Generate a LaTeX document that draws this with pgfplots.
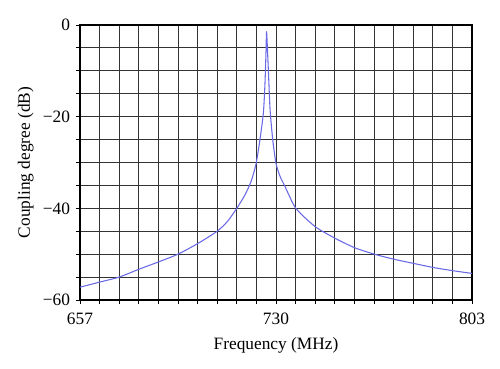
\documentclass[border=0pt]{standalone}
\usepackage{pgfplots}
\pgfplotsset{compat=1.18}
\usepackage{fontspec}
\setmainfont{Liberation Serif}
\definecolor{curve}{RGB}{105,105,230}
\begin{document}
\fontsize{13}{15}\selectfont
\begin{tikzpicture}
\useasboundingbox (-60pt,-51pt) rectangle (315pt,225pt);
\begin{axis}[
  scale only axis,
  width=294pt, height=206.25pt,
  xmin=657, xmax=803, ymin=-60, ymax=0,
  xtick={657,730,803},
  minor xtick={664.3,671.6,678.9,686.2,693.5,700.8,708.1,715.4,722.7,737.3,744.6,751.9,759.2,766.5,773.8,781.1,788.4,795.7},
  ytick={-60,-40,-20,0},
  yticklabels={−60,−40,−20,0},
  minor ytick={-55,-50,-45,-35,-30,-25,-15,-10,-5},
  grid=both,
  major grid style={draw=black!80, line width=0.7pt},
  minor grid style={draw=black!80, line width=0.7pt},
  axis line style={line width=0.9pt},
  tick align=outside,
  tick pos=left,
  major tick length=3pt,
  minor tick length=3pt,
  every tick/.style={black, line width=0.7pt},
  /pgf/number format/assume math mode=true,
  /pgf/number format/1000 sep={},
  tick label style={font=\fontsize{13}{15}\selectfont},
  xticklabel style={yshift=-2pt},
  label style={font=\fontsize{13}{15}\selectfont},
  xlabel={Frequency (MHz)},
  ylabel={Coupling degree (dB)},
  xlabel style={yshift=-1pt},
  ylabel style={yshift=-2pt},
]
\addplot[curve, line width=0.8pt, smooth, tension=0.4] coordinates {
(657,-57.2) (664.3,-56.1) (671.6,-55.0) (678.9,-53.3) (686.2,-51.7)
(693.5,-50.0) (700.8,-47.7) (708.1,-45.0) (712,-42.8) (715.4,-40.0)
(718.5,-37.0) (720.8,-34.0) (722.6,-30.2) (724.0,-25.1) (725.3,-19.2) (725.9,-12.7)
(726.3,-5.5) (726.5,-1.5) (727.1,-9.1) (727.8,-18.5) (728.8,-25.1)
(730.0,-30.2) (731.5,-33.0) (733.4,-35.3) (737.4,-40.0) (744.6,-44.0) (751.9,-46.5)
(759.3,-48.6) (766.6,-50.0) (773.9,-51.1) (781.1,-52.0) (788.5,-52.9)
(795.8,-53.6) (803,-54.2)
};
\end{axis}
\end{tikzpicture}
\end{document}
